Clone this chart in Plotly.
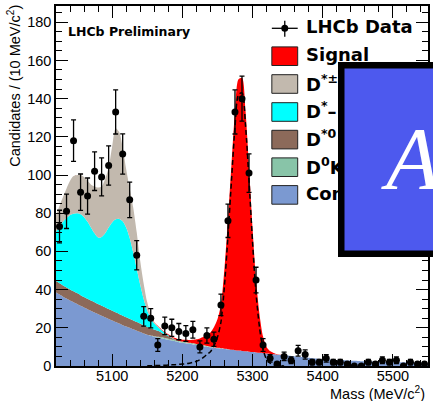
import numpy as np
import plotly.graph_objects as go

# ---------------- data ----------------
bin_centers = list(range(5025, 5546, 10))
counts = [73, 81, 118, 91, 89, 102, 99, 105, 133, 111,
          87, 58, 26, 25, 11, 21, 20, 18, 17, 19,
          10, 16, 14, 32, 76, 133, 140, 101, 45, 11,
          4, 1, 5, 3, 8, 6, 2, 2, 4, 2,
          2, 1, 0, 0, 2, 1, 3, 2, 3, 0,
          2, 1, 1]

grid_start, grid_stop, grid_step = 5020, 5550, 5

# combinatorial (full range, 5 MeV steps from 5020)
comb = [38.5, 37.4, 36.3, 35.3, 34.3, 33.4, 32.5, 31.5, 30.6, 29.7,
        28.8, 28.0, 27.1, 26.3, 25.5, 24.6, 23.8, 23.0, 22.2, 21.4,
        20.7, 20.0, 19.2, 18.5, 17.8, 17.0, 16.3, 15.8, 15.3, 14.9,
        14.5, 14.1, 13.7, 13.3, 12.9, 12.5, 12.2, 11.9, 11.6, 11.3,
        11.0, 10.7, 10.4, 10.1, 9.8, 9.6, 9.3, 9.1, 8.9, 8.7,
        8.5, 8.3, 8.1, 7.9, 7.7, 7.5, 7.3, 7.1, 6.9, 6.7,
        6.5, 6.3, 6.1, 5.9, 5.8, 5.6, 5.5, 5.3, 5.1, 4.9,
        4.7, 4.5, 4.3, 4.1, 3.9, 3.7, 3.6, 3.5, 3.4, 3.3,
        3.2, 3.1, 3.0, 2.9, 2.8, 2.7, 2.6, 2.5, 2.5, 2.4,
        2.3, 2.3, 2.2, 2.2, 2.1, 2.1, 2.0, 2.0, 1.9, 1.9,
        1.8, 1.8, 1.7, 1.7, 1.7, 1.6, 1.6]

d0k_start = 5150
d0k = [0.1, 0.2, 0.3, 0.4, 0.5, 0.55, 0.6, 0.6, 0.6, 0.6,
       0.6, 0.6, 0.6, 0.55, 0.5, 0.45, 0.4, 0.35, 0.3, 0.25,
       0.2, 0.15, 0.1, 0.05, 0.0]

dst0_start = 5020
dst0 = [6.0, 5.95, 5.9, 5.85, 5.8, 5.75, 5.7, 5.6, 5.55, 5.5,
        5.45, 5.4, 5.35, 5.3, 5.25, 5.2, 5.15, 5.1, 5.0, 4.9,
        4.8, 4.7, 4.6, 4.5, 4.4, 4.2, 4.0, 3.8, 3.5, 3.1,
        2.6, 2.0, 1.4, 0.8, 0.3, 0.0]

dstm_start = 5020
dstm = [25.8, 29.6, 33.3, 36.3, 38.9, 40.6, 41.8, 42.4, 41.8, 40.3,
        38.2, 36.1, 34.8, 35.9, 38.7, 42.7, 46.2, 48.7, 49.8, 49.5,
        47.0, 42.3, 35.7, 28.0, 20.3, 13.8, 8.7, 5.2, 3.1, 2.0,
        1.2, 0.7, 0.4, 0.2, 0.1, 0.0]

dstpm_start = 5020
dstpm = [8.7, 11.0, 13.0, 15.5, 18.0, 19.7, 20.0, 20.5, 21.0, 21.5,
         22.5, 24.5, 26.2, 26.5, 28.5, 31.5, 39.8, 47.7, 45.5, 38.7,
         30.5, 26.0, 23.5, 19.0, 12.5, 8.0, 4.0, 1.5, 0.7, 0.4,
         0.2, 0.0]

sig_start = 5150
sig = [0.1, 0.15, 0.2, 0.25, 0.3, 0.4, 0.5, 0.6, 0.7, 0.85,
       1.0, 1.2, 1.4, 1.9, 2.5, 3.3, 4.5, 6.0, 7.5, 10.5,
       15.0, 23.0, 42.0, 68.0, 97.0, 125.0, 142.0, 143.0, 126.0, 97.0,
       65.0, 38.0, 20.0, 8.7, 3.5, 1.5, 0.7, 0.3, 0.1, 0.0]

legend_labels = ["LHCb Data", "Signal", "D<sup>*±</sup>", "D<sup>*</sup>–",
                 "D<sup>*0</sup>", "D<sup>0</sup>K", "Com"]
colors = {"sig": "#FF0000", "dstpm": "#C2B9AE", "dstm": "#00FFFF",
          "dst0": "#8C6A5A", "d0k": "#88C4A8", "comb": "#7B99D1"}

# ---------------- build stacks ----------------
grid = np.arange(grid_start, grid_stop + 1, grid_step)


def on_grid(start, values):
    out = np.zeros(len(grid))
    i0 = (start - grid_start) // grid_step
    out[i0:i0 + len(values)] = values
    return out


s1 = np.array(comb)
s2 = s1 + on_grid(d0k_start, d0k)
s3 = s2 + on_grid(dst0_start, dst0)
s4 = s3 + on_grid(dstm_start, dstm)
s5 = s4 + on_grid(dstpm_start, dstpm)
s6 = s5 + on_grid(sig_start, sig)

fig = go.Figure()
layers = [(s1, "comb", "tozeroy"), (s2, "d0k", "tonexty"), (s3, "dst0", "tonexty"),
          (s4, "dstm", "tonexty"), (s5, "dstpm", "tonexty"), (s6, "sig", "tonexty")]
for ys, key, fill in layers:
    fig.add_trace(go.Scatter(x=grid, y=ys, mode="lines", fill=fill,
                             fillcolor=colors[key],
                             line=dict(width=0, shape="spline", smoothing=0.8),
                             hoverinfo="skip"))

sig_x = np.arange(sig_start, sig_start + grid_step * len(sig), grid_step)
fig.add_trace(go.Scatter(x=sig_x, y=sig, mode="lines",
                         line=dict(color="black", width=1.5, dash="5px,3px",
                                   shape="spline", smoothing=0.8)))

fig.add_trace(go.Scatter(x=bin_centers, y=counts, mode="markers",
                         marker=dict(color="black", size=7),
                         error_y=dict(type="data", array=np.sqrt(counts),
                                      color="black", thickness=1.3, width=2.5)))

# ---------------- layout helpers ----------------
L, R, T, B = 56, 430, 6, 366


def px(x):
    return (x - L) / (R - L)


def py(y):
    return (B - y) / (B - T)


shapes = []
annotations = []

# legend: data symbol
shapes.append(dict(type="line", xref="paper", yref="paper", x0=px(273), x1=px(299),
                   y0=py(28.3), y1=py(28.3), line=dict(color="black", width=1.3)))
shapes.append(dict(type="line", xref="paper", yref="paper", x0=px(286), x1=px(286),
                   y0=py(20.7), y1=py(36.7), line=dict(color="black", width=1.3)))
shapes.append(dict(type="circle", xref="paper", yref="paper", x0=px(282.5), x1=px(289.5),
                   y0=py(24.8), y1=py(31.8), fillcolor="black", line=dict(width=0)))

box_keys = ["sig", "dstpm", "dstm", "dst0", "d0k", "comb"]
row_centers = [28.3, 56.2, 84.0, 112.0, 139.6, 167.2, 194.9]
for i, key in enumerate(box_keys):
    yc = row_centers[i + 1]
    shapes.append(dict(type="rect", xref="paper", yref="paper", x0=px(273), x1=px(299),
                       y0=py(yc - 9.3), y1=py(yc + 9.3), fillcolor=colors[key],
                       line=dict(color="#222222", width=1)))

for lab, yc in zip(legend_labels, row_centers):
    annotations.append(dict(text=lab, xref="paper", yref="paper", x=px(305), y=py(yc - 1.5),
                            xanchor="left", yanchor="middle", showarrow=False,
                            font=dict(family="DejaVu Sans", size=18, color="black",
                                      weight="bold")))

annotations.append(dict(text="LHCb Preliminary", xref="paper", yref="paper",
                        x=px(66), y=py(32), xanchor="left", yanchor="middle",
                        showarrow=False,
                        font=dict(family="DejaVu Sans", size=12.5, color="black",
                                  weight="bold")))

annotations.append(dict(text="Mass (MeV/c<sup>2</sup>)", xref="paper", yref="paper",
                        x=px(429), y=py(392.5), xanchor="right", yanchor="middle",
                        showarrow=False,
                        font=dict(family="Liberation Sans", size=14.5, color="black")))

annotations.append(dict(text="Candidates / (10 MeV/c<sup>2</sup>)", xref="paper",
                        yref="paper", x=px(13.5), y=py(3), xanchor="center",
                        yanchor="top", textangle=-90, showarrow=False,
                        font=dict(family="Liberation Sans", size=14.5, color="black")))

# overlay box (covers the legend), then the glyph
annotations.append(dict(text="&nbsp;", xref="paper", yref="paper", x=px(340), y=py(61.7),
                        xanchor="left", yanchor="top", showarrow=False,
                        width=97, height=182, borderpad=0, borderwidth=6.5,
                        bordercolor="black", bgcolor="#4D59EE"))
annotations.append(dict(text="A", xref="paper", yref="paper", x=px(381), y=py(158),
                        xanchor="left", yanchor="middle", showarrow=False,
                        font=dict(family="Liberation Serif", size=88, color="white",
                                  style="italic")))

axis_common = dict(showgrid=False, zeroline=False, showline=True, linecolor="black",
                   linewidth=1.5, mirror="allticks", ticks="inside", ticklen=12,
                   tickwidth=1.3, tickcolor="black",
                   tickfont=dict(family="Liberation Sans", size=14.5, color="black"))

fig.update_layout(
    width=433, height=401,
    margin=dict(l=L, r=433 - R, t=T, b=401 - B),
    paper_bgcolor="white", plot_bgcolor="white",
    showlegend=False,
    xaxis=dict(range=[5020, 5550], tick0=5000, dtick=100, ticklabelstandoff=-4,
               minor=dict(dtick=20, ticklen=6, tickwidth=1.1, ticks="inside",
                          tickcolor="black"),
               **axis_common),
    yaxis=dict(range=[0, 188.5], tick0=0, dtick=20,
               minor=dict(dtick=5, ticklen=6, tickwidth=1.1, ticks="inside",
                          tickcolor="black"),
               **axis_common),
    shapes=shapes,
    annotations=annotations,
)

fig.write_html("out.html")
